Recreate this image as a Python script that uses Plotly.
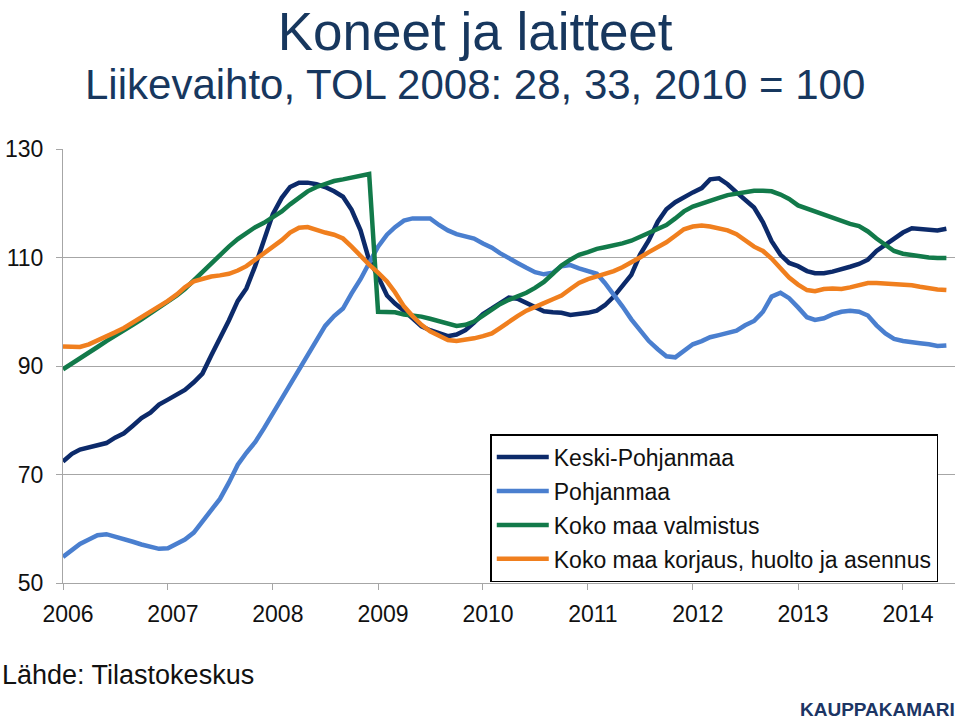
import pandas as pd
import plotly.graph_objects as go

# monthly index values, Jan 2006 - Jun 2014 (2010 = 100)
months = pd.date_range("2006-01-01", periods=102, freq="MS")

keski_pohjanmaa = [
    72.4, 73.8, 74.6, 75.0, 75.3, 75.8, 76.8, 77.6, 79.0, 80.4, 81.4, 82.9,
    83.8, 84.8, 85.6, 87.0, 88.6, 92.0, 95.0, 98.4, 102.0, 104.3, 108.5, 113.5,
    118.0, 121.0, 123.0, 123.8, 123.8, 123.5, 123.0, 122.2, 121.2, 118.8, 115.0, 109.5,
    106.5, 103.0, 101.5, 100.2, 98.8, 97.3, 96.6, 96.0, 95.5, 95.8, 96.6, 98.0,
    99.6, 100.6, 101.5, 102.6, 102.4, 101.6, 101.0, 100.1, 99.9, 99.8, 99.4, 99.5,
    99.8, 100.2, 101.2, 102.8, 104.8, 106.8, 110.5, 113.2, 116.6, 118.9, 120.2, 121.2,
    122.0, 122.8, 124.4, 124.6, 123.5, 122.0, 120.5, 119.2, 116.5, 113.0, 110.5, 109.0,
    108.4, 107.5, 107.1, 107.1, 107.4, 107.8, 108.3, 108.8, 109.6, 111.2, 112.4, 113.5,
    114.6, 115.4, 115.3, 115.2, 115.0, 115.3,
]
pohjanmaa = [
    54.8, 56.0, 57.2, 58.0, 58.8, 59.0, 58.6, 58.0, 57.6, 57.1, 56.6, 56.3,
    56.4, 57.2, 58.0, 59.3, 61.3, 63.5, 65.5, 68.5, 71.8, 74.0, 76.0, 78.5,
    81.2, 84.0, 86.5, 89.2, 91.8, 94.8, 97.4, 99.2, 100.6, 103.4, 106.0, 109.0,
    112.0, 114.2, 115.6, 116.8, 117.2, 117.2, 117.2, 116.0, 115.0, 114.3, 113.9, 113.5,
    112.6, 111.8, 110.8, 110.0, 109.0, 108.1, 107.3, 106.9, 107.2, 108.4, 108.6, 108.0,
    107.6, 107.0, 105.3, 103.2, 101.0, 98.6, 96.5, 94.6, 93.1, 91.8, 91.6, 92.8,
    94.0, 94.6, 95.3, 95.7, 96.0, 96.5, 97.5, 98.3, 100.0, 102.8, 103.5, 102.5,
    100.8, 99.0, 98.5, 98.8, 99.5, 100.0, 100.2, 100.0, 99.3, 97.5, 96.0, 95.0,
    94.6, 94.3, 94.2, 94.0, 93.7, 93.8,
]
koko_maa_valmistus = [
    89.4, 90.4, 91.4, 92.4, 93.5, 94.6, 95.5, 96.5, 97.6, 98.6, 99.7, 100.8,
    101.8, 103.0, 104.2, 105.8, 107.3, 108.8, 110.5, 112.0, 113.4, 114.6, 115.6, 116.4,
    117.4, 118.5, 119.8, 121.0, 122.2, 123.0, 123.6, 124.1, 124.4, 124.7, 125.0, 125.4,
    100.0, 100.0, 99.9, 99.5, 99.4, 99.1, 98.7, 98.3, 97.8, 97.4, 97.6, 98.2,
    99.3, 100.5, 101.4, 102.2, 102.8, 103.5, 104.4, 105.5, 107.0, 108.5, 109.6, 110.5,
    111.0, 111.6, 111.9, 112.2, 112.6, 113.1, 113.8, 114.6, 115.3, 116.0, 117.2, 118.5,
    119.4, 120.0, 120.5, 121.0, 121.5, 121.8, 122.1, 122.3, 122.3, 122.2, 121.6, 120.8,
    119.6, 119.0, 118.4, 117.9, 117.4, 116.8, 116.2, 115.8, 114.8, 113.5, 112.3, 111.2,
    110.7, 110.4, 110.2, 110.0, 109.9, 109.9,
]
koko_maa_korjaus = [
    93.6, 93.5, 93.5, 94.0, 94.8, 95.6, 96.2, 97.0, 98.0, 99.0, 100.0, 101.0,
    102.0, 103.2, 104.5, 105.6, 106.1, 106.5, 106.7, 107.0, 107.6, 108.4, 109.6, 110.8,
    111.9, 113.2, 114.6, 115.5, 115.6, 115.0, 114.6, 114.2, 113.5, 112.0, 110.2, 108.7,
    107.2, 105.6, 103.6, 101.0, 99.2, 97.6, 96.4, 95.6, 94.8, 94.6, 94.8, 95.1,
    95.5, 96.0, 97.0, 98.2, 99.2, 100.2, 101.0, 101.6, 102.3, 103.0, 104.2, 105.3,
    106.0, 106.5, 107.0, 107.5, 108.2, 109.0, 110.0, 111.0, 111.8, 112.8, 114.0, 115.2,
    115.7, 115.9, 115.7, 115.4, 115.0, 114.3, 113.2, 112.0, 111.2, 109.8, 108.0, 106.3,
    105.0, 104.0, 103.8, 104.2, 104.3, 104.2, 104.5, 104.8, 105.3, 105.3, 105.2, 105.1,
    105.1, 104.9, 104.6, 104.3, 104.1, 104.0,
]

series = [
    ("Keski-Pohjanmaa", keski_pohjanmaa, "#0c2a6a"),
    ("Pohjanmaa", pohjanmaa, "#4a7fcf"),
    ("Koko maa valmistus", koko_maa_valmistus, "#127a4a"),
    ("Koko maa korjaus, huolto ja asennus", koko_maa_korjaus, "#f07f1e"),
]

NAVY = "#17375e"
GRID = "#a6a6a6"
FONT = "Liberation Sans, Arial, sans-serif"

fig = go.Figure()
for k, (name, vals, color) in enumerate(series):
    fig.add_trace(go.Scatter(
        x=months, y=vals, name=name, mode="lines",
        line=dict(color=color, width=4.5),
        legendgroup=f"g{k}",
    ))

fig.update_layout(
    width=960, height=720,
    margin=dict(l=63, r=5, t=149, b=137, autoexpand=False),
    paper_bgcolor="white", plot_bgcolor="white",
    font=dict(family=FONT, color="#111111"),
    showlegend=True,
    legend=dict(
        x=0.479, y=0.002, xanchor="left", yanchor="bottom",
        bgcolor="white", bordercolor="black", borderwidth=1.5,
        font=dict(size=23, color="#111111"),
        traceorder="grouped", tracegroupgap=1,
        itemwidth=52,
    ),
)

fig.update_xaxes(
    type="date", automargin=False,
    range=["2006-01-01", "2014-07-01"],
    tick0="2006-01-01", dtick="M12", tickformat="%Y",
    showgrid=False, showline=True, linecolor=GRID, linewidth=1.2,
    ticks="outside", ticklen=6, tickcolor=GRID,
    tickfont=dict(size=23, color="#111111"),
    ticklabelshift=5, ticklabelstandoff=4,
)
fig.update_yaxes(
    automargin=False,
    range=[50, 130], tickvals=[50, 70, 90, 110, 130],
    showgrid=True, gridcolor=GRID, gridwidth=1.2,
    showline=True, linecolor=GRID, linewidth=1.2,
    ticks="outside", ticklen=6, tickcolor=GRID,
    tickfont=dict(size=23, color="#111111"),
    ticklabelstandoff=8,
    zeroline=False,
)

# title and subtitle in one block so they stack without overlapping;
# the base size sets the line spacing
fig.add_annotation(
    text=("<span style='font-size:53px'>Koneet ja laitteet</span><br>"
          "<span style='font-size:42px'>Liikevaihto, TOL 2008: 28, 33, 2010 = 100</span>"),
    xref="paper", yref="paper",
    x=0.462, y=1.0, yshift=149, xanchor="center", yanchor="top",
    align="center", showarrow=False, font=dict(size=38, color=NAVY),
)
fig.add_annotation(
    text="Lähde: Tilastokeskus", xref="paper", yref="paper",
    x=0, xshift=-63, y=0, yshift=-92, xanchor="left", yanchor="middle",
    showarrow=False, font=dict(size=27, color="#111111"),
)
fig.add_annotation(
    text="<b>KAUPPAKAMARI</b>", xref="paper", yref="paper",
    x=1.0, xshift=2, y=0, yshift=-126, xanchor="right", yanchor="middle",
    showarrow=False,
    font=dict(size=19, color="#1c3564", family=FONT),
)

# the page body has a default 8px margin; drop it so the figure sits at 0,0
fig.write_html(
    "out.html",
    config={"displayModeBar": False},
    post_script="document.body.style.margin='0';",
)
